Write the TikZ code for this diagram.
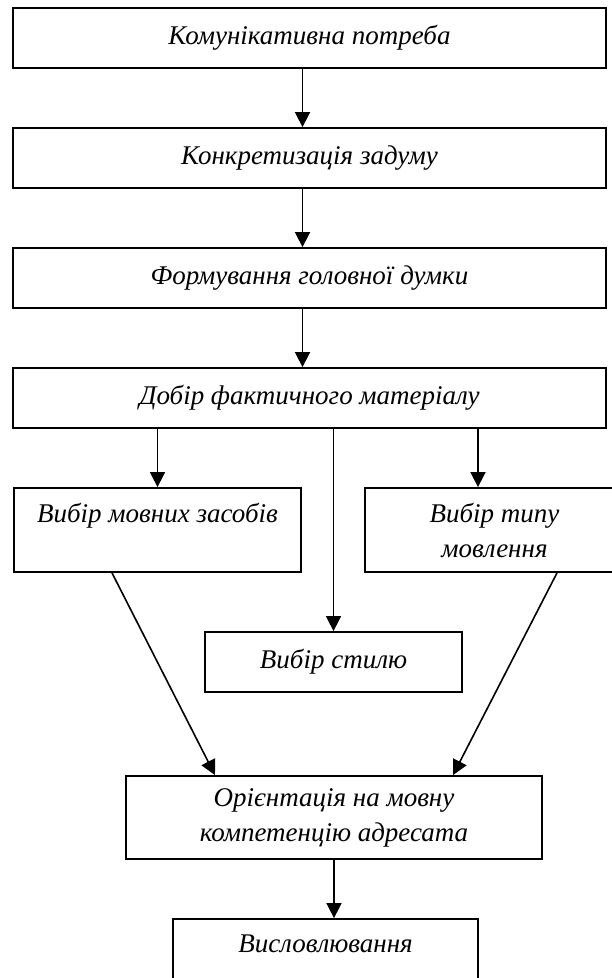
\documentclass[tikz,border=0pt]{standalone}
\usepackage{fontspec}
\setmainfont{Liberation Serif}
\usepackage{tikz}
\usetikzlibrary{arrows.meta}
\begin{document}
\begin{tikzpicture}[x=1pt,y=-1pt]
		\useasboundingbox (0,0) rectangle (612,978);
		\clip (0,0) rectangle (612,978);
		\tikzstyle{block}=[draw,line width=1.8pt,rectangle,inner sep=0pt,align=center,font=\fontsize{27}{35}\selectfont\itshape]
		\tikzstyle{arr}=[line width=1.6pt,-{Triangle[length=15pt,width=15pt]}]
		\node[block,minimum width=593pt,minimum height=60pt] (b_1) at (309.5,38) {Комунікативна потреба};
		\node[block,minimum width=593pt,minimum height=60pt] (b_2) at (309.5,158) {Конкретизація задуму};
		\node[block,minimum width=593pt,minimum height=60pt] (b_3) at (309.5,278) {Формування головної думки};
		\node[block,minimum width=593pt,minimum height=60pt] (b_4) at (309.5,398) {Добір фактичного матеріалу};
		\node[block,minimum width=287pt,minimum height=84pt] (b_l) at (157.5,530) {Вибір мовних засобів\\~};
		\node[block,minimum width=259pt,minimum height=84pt] (b_r) at (494.5,530) {Вибір типу\\мовлення};
		\node[block,minimum width=257pt,minimum height=60pt] (b_s) at (333.5,662) {Вибір стилю};
		\node[block,minimum width=416pt,minimum height=83pt] (b_o) at (334,817.5) {Орієнтація на мовну\\компетенцію адресата};
		\node[block,minimum width=305pt,minimum height=84pt] (b_v) at (325.5,961) {Висловлювання\\~};
		\draw[arr] ([xshift=-7pt]b_1.south) -- ([xshift=-7pt]b_2.north);
		\draw[arr] ([xshift=-7pt]b_2.south) -- ([xshift=-7pt]b_3.north);
		\draw[arr] ([xshift=-7pt]b_3.south) -- ([xshift=-7pt]b_4.north);
		\draw[arr] (b_l.north |- b_4.south) -- (b_l.north);
		\draw[arr] ([xshift=-16.5pt]b_r.north |- b_4.south) -- ([xshift=-16.5pt]b_r.north);
		\draw[arr] (b_s.north |- b_4.south) -- (b_s.north);
		\draw[arr] ([xshift=-45.5pt]b_l.south) -- ([xshift=-119pt]b_o.north);
		\draw[arr] ([xshift=62.5pt]b_r.south) -- ([xshift=119pt]b_o.north);
		\draw[arr] (b_o.south) -- (b_o.south |- b_v.north);
	\end{tikzpicture}
\end{document}
